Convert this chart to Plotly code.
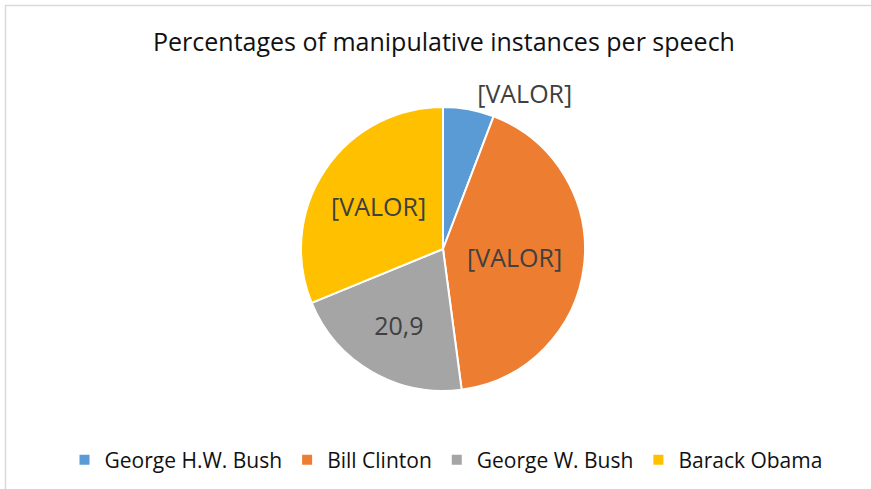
import plotly.graph_objects as go

W, H = 871, 489

presidents = ["George H.W. Bush", "Bill Clinton", "George W. Bush", "Barack Obama"]
percentages = [5.8, 42.1, 20.9, 31.2]
label_texts = ["[VALOR]", "[VALOR]", "20,9", "[VALOR]"]
colors = ["#5B9BD5", "#ED7D31", "#A5A5A5", "#FFC000"]
text_positions = ["outside", "inside", "inside", "inside"]

cx, cy, r = 443, 249, 142

fig = go.Figure(go.Pie(
    labels=presidents,
    values=percentages,
    text=label_texts,
    textinfo="text",
    textposition=text_positions,
    insidetextorientation="horizontal",
    sort=False,
    direction="clockwise",
    rotation=0,
    marker=dict(colors=colors, line=dict(color="white", width=2)),
    textfont=dict(family="Open Sans", size=25, color="#404040"),
    outsidetextfont=dict(family="Open Sans", size=25, color="#404040"),
    insidetextfont=dict(family="Open Sans", size=25, color="#404040"),
    domain=dict(x=[(cx - r) / W, (cx + r) / W], y=[1 - (cy + r) / H, 1 - (cy - r) / H]),
    hoverinfo="label+value",
))

fig.update_layout(
    width=W, height=H,
    margin=dict(l=0, r=0, t=0, b=0),
    paper_bgcolor="white",
    title=dict(text="Percentages of manipulative instances per speech",
               x=444 / W, xanchor="center", y=1 - 42 / H, yanchor="middle",
               font=dict(family="Open Sans", size=25, color="#111111")),
    showlegend=True,
    legend=dict(orientation="h", x=446 / W, xanchor="center", y=1 - 460 / H, yanchor="middle",
                font=dict(family="Open Sans", size=21, color="#111111"), itemclick=False),
    shapes=[dict(type="rect", xref="paper", yref="paper",
                 x0=5.5 / W, x1=1.02, y0=-0.02, y1=1 - 5.5 / H,
                 line=dict(color="#D9D9D9", width=1.5), fillcolor="rgba(0,0,0,0)")],
)

fig.write_html("out.html")
